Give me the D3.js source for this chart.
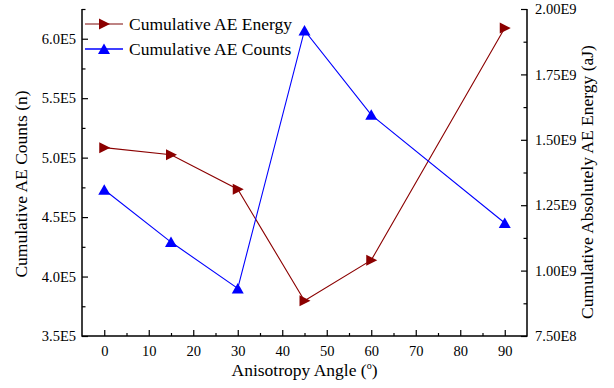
<!DOCTYPE html>
<html>
<head>
<meta charset="utf-8">
<script src="https://cdn.jsdelivr.net/npm/d3@7"></script>
<style>
  body { margin: 0; background: #fff; }
  svg text { font-family: "Liberation Serif", "Times New Roman", Times, "DejaVu Serif", serif; }
</style>
</head>
<body>
<div id="vis"></div>
<script>
const angles = [0, 15, 30, 45, 60, 90];
const aeCounts = [4.73e5, 4.29e5, 3.90e5, 6.07e5, 5.36e5, 4.45e5];
const aeEnergy = [1.47e9, 1.443e9, 1.311e9, 8.85e8, 1.04e9, 1.927e9];

const xTicks = [0, 10, 20, 30, 40, 50, 60, 70, 80, 90];
const countTicks = [3.5e5, 4.0e5, 4.5e5, 5.0e5, 5.5e5, 6.0e5];
const energyTicks = [7.5e8, 1.0e9, 1.25e9, 1.5e9, 1.75e9, 2.0e9];

const seriesNames = ["Cumulative AE Energy", "Cumulative AE Counts"];

const W = 614, H = 388;
const margin = { top: 9, right: 87, bottom: 52, left: 82 };
const width = W - margin.left - margin.right;
const height = H - margin.top - margin.bottom;

const red = "#8b0000", blue = "#0000ff";

const svg = d3.select("#vis")
  .append("svg")
  .attr("width", W)
  .attr("height", H);

const g = svg.append("g")
  .attr("transform", `translate(${margin.left},${margin.top})`);

const x = d3.scaleLinear().domain([-5, 95]).range([0, width]);
const yL = d3.scaleLinear().domain([3.5e5, 6.25e5]).range([height, 0]);
const yR = d3.scaleLinear().domain([7.5e8, 2.0e9]).range([height, 0]);

function styleAxis(sel) {
  sel.attr("font-family", null);
  sel.select(".domain").remove();
  sel.selectAll("line").attr("stroke", "#000").attr("stroke-width", 1.2);
  sel.selectAll("text")
    .attr("font-size", "14.5px")
    .attr("fill", "#000");
}

// minor ticks
g.append("g")
  .attr("transform", `translate(0,${height})`)
  .call(d3.axisBottom(x).tickValues(d3.range(5, 95, 10)).tickSize(-3).tickFormat(""))
  .call(styleAxis);
g.append("g")
  .call(d3.axisLeft(yL).tickValues([3.75e5, 4.25e5, 4.75e5, 5.25e5, 5.75e5, 6.25e5]).tickSize(-3.5).tickFormat(""))
  .call(styleAxis);
g.append("g")
  .attr("transform", `translate(${width},0)`)
  .call(d3.axisRight(yR).tickValues([8.75e8, 1.125e9, 1.375e9, 1.625e9, 1.875e9]).tickSize(-3.5).tickFormat(""))
  .call(styleAxis);

// major ticks
g.append("g")
  .attr("transform", `translate(0,${height})`)
  .call(d3.axisBottom(x).tickValues(xTicks).tickSize(-6).tickPadding(10).tickFormat(d3.format("d")))
  .call(styleAxis);

g.append("g")
  .call(d3.axisLeft(yL).tickValues(countTicks).tickSize(-6)
    .tickFormat(d => (d / 1e5).toFixed(1) + "E5"))
  .call(styleAxis)
  .selectAll("text").attr("x", -6);

g.append("g")
  .attr("transform", `translate(${width},0)`)
  .call(d3.axisRight(yR).tickValues(energyTicks).tickSize(-6)
    .tickFormat(d => d >= 1e9 ? (d / 1e9).toFixed(2) + "E9" : (d / 1e8).toFixed(2) + "E8"))
  .call(styleAxis)
  .selectAll("text").attr("x", 8);

// axis lines (left, bottom, right)
g.append("path")
  .attr("d", `M0,0V${height}H${width}V0`)
  .attr("fill", "none")
  .attr("stroke", "#000")
  .attr("stroke-width", 1.5);

// axis titles
svg.append("text")
  .attr("x", margin.left + width / 2)
  .attr("y", 376)
  .attr("text-anchor", "middle")
  .attr("font-size", "17.5px")
  .text("Anisotropy Angle (")
  .call(t => t.append("tspan").attr("font-size", "10px").attr("dy", -7).text("o"))
  .call(t => t.append("tspan").attr("dy", 7).text(")"));

svg.append("text")
  .attr("transform", "translate(27,184) rotate(-90)")
  .attr("text-anchor", "middle")
  .attr("font-size", "17.5px")
  .text("Cumulative AE Counts (n)");

svg.append("text")
  .attr("transform", "translate(593,182) rotate(-90)")
  .attr("text-anchor", "middle")
  .attr("font-size", "17.5px")
  .text("Cumulative Absolutely AE Energy (aJ)");

// markers
const rightTri = "M-5,-5.5L6,0L-5,5.5Z";
const upTri = "M0,-5.5L6,5L-6,5Z";

const energyPts = angles.map((a, i) => [x(a), yR(aeEnergy[i])]);
const countPts = angles.map((a, i) => [x(a), yL(aeCounts[i])]);

g.append("path")
  .attr("d", d3.line()(energyPts))
  .attr("fill", "none")
  .attr("stroke", red)
  .attr("stroke-width", 1.1);

g.append("path")
  .attr("d", d3.line()(countPts))
  .attr("fill", "none")
  .attr("stroke", blue)
  .attr("stroke-width", 1.1);

g.selectAll(".e-mark")
  .data(energyPts)
  .enter()
  .append("path")
  .attr("class", "e-mark")
  .attr("d", rightTri)
  .attr("transform", d => `translate(${d[0]},${d[1]})`)
  .attr("fill", red);

g.selectAll(".c-mark")
  .data(countPts)
  .enter()
  .append("path")
  .attr("class", "c-mark")
  .attr("d", upTri)
  .attr("transform", d => `translate(${d[0]},${d[1]})`)
  .attr("fill", blue);

// legend
const legend = svg.append("g");
const legendRows = [
  { name: seriesNames[0], color: "#a85a5a", mark: rightTri, fill: red, y: 24 },
  { name: seriesNames[1], color: blue, mark: upTri, fill: blue, y: 49 }
];
legendRows.forEach(r => {
  legend.append("line")
    .attr("x1", 85).attr("x2", 123)
    .attr("y1", r.y).attr("y2", r.y)
    .attr("stroke", r.color)
    .attr("stroke-width", 1.3);
  legend.append("path")
    .attr("d", r.mark)
    .attr("transform", `translate(104,${r.y})`)
    .attr("fill", r.fill);
  legend.append("text")
    .attr("x", 129)
    .attr("y", r.y + 6)
    .attr("font-size", "17.5px")
    .text(r.name);
});
</script>
</body>
</html>
